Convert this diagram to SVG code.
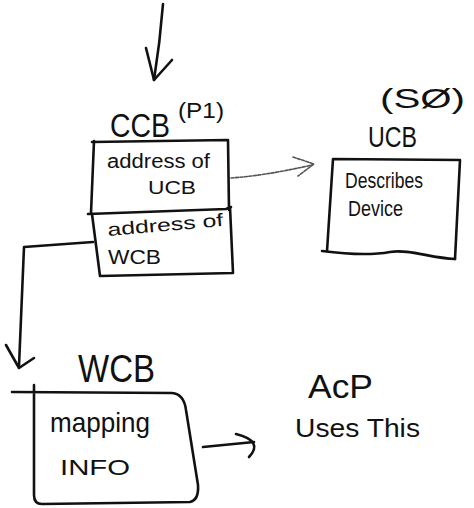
<svg xmlns="http://www.w3.org/2000/svg" width="474" height="508" viewBox="0 0 474 508">
  <style>
    .ink { fill: none; stroke: #111; stroke-width: 2.6; stroke-linecap: round; stroke-linejoin: round; }
    .faint { fill: none; stroke: #555; stroke-width: 1.6; stroke-dasharray: 3 1.5; stroke-linecap: round; stroke-linejoin: round; }
    text { font-family: "Liberation Sans", "DejaVu Sans", sans-serif; fill: #111; }
  </style>
  <rect width="474" height="508" fill="#fff"/>

  <!-- CCB: two stacked cells -->
  <g id="node-ccb">
    <text x="110" y="137" font-size="34" textLength="60" lengthAdjust="spacingAndGlyphs">CCB</text>
    <text x="178" y="118" font-size="22" textLength="46" lengthAdjust="spacingAndGlyphs">(P1)</text>
    <path class="ink" d="M92,142 L228,140 L229,210"/>
    <path class="ink" d="M94,141 L91,213"/>
    <path class="ink" d="M88,214 L226,209 L231,207"/>
    <path class="ink" d="M92,214 L100,276 L233,273 L230,207"/>
    <text x="107" y="168" font-size="20" textLength="103" lengthAdjust="spacingAndGlyphs">address of</text>
    <text x="148" y="194" font-size="18" textLength="48" lengthAdjust="spacingAndGlyphs">UCB</text>
    <text x="108" y="236" font-size="18" textLength="116" lengthAdjust="spacingAndGlyphs" transform="rotate(-5 108 236)">address of</text>
    <text x="108" y="264" font-size="20" textLength="53" lengthAdjust="spacingAndGlyphs">WCB</text>
  </g>

  <!-- UCB: open-ended box on the right -->
  <g id="node-ucb">
    <text x="380" y="108" font-size="28" textLength="85" lengthAdjust="spacingAndGlyphs">(SØ)</text>
    <text x="368" y="147" font-size="30" textLength="49" lengthAdjust="spacingAndGlyphs">UCB</text>
    <path class="ink" d="M327,251 L333,159 L460,160 L455,259"/>
    <path class="ink" d="M322,251 C345,254 368,256 390,252 C410,249 430,258 455,259"/>
    <text x="345" y="188" font-size="22" textLength="78" lengthAdjust="spacingAndGlyphs">Describes</text>
    <text x="348" y="216" font-size="22" textLength="55" lengthAdjust="spacingAndGlyphs">Device</text>
  </g>

  <!-- WCB: rounded box at the bottom left -->
  <g id="node-wcb">
    <text x="78" y="382" font-size="38" textLength="77" lengthAdjust="spacingAndGlyphs">WCB</text>
    <path class="ink" d="M12,392 L172,393 Q184,394 186,410 L198,485 Q199,500 190,502 L42,504 Q34,504 34,495 L34,385"/>
    <text x="50" y="432" font-size="28" textLength="100" lengthAdjust="spacingAndGlyphs">mapping</text>
    <text x="60" y="475" font-size="22" textLength="70" lengthAdjust="spacingAndGlyphs">INFO</text>
  </g>

  <!-- free note -->
  <g id="note-acp">
    <text x="308" y="398" font-size="34" textLength="65" lengthAdjust="spacingAndGlyphs">AcP</text>
    <text x="295" y="437" font-size="26" textLength="125" lengthAdjust="spacingAndGlyphs">Uses This</text>
  </g>

  <!-- connectors -->
  <g id="connectors">
    <path class="ink" d="M163,4 C161,30 158,55 154,80"/>
    <path class="ink" d="M146,48 L154,80 L172,60"/>

    <path class="faint" d="M231,178 C260,176 290,170 312,165"/>
    <path class="faint" d="M293,157 L314,164 L298,176"/>

    <path class="ink" d="M93,242 L24,247 L19,366"/>
    <path class="ink" d="M6,345 L19,368 L34,358"/>

    <path class="ink" d="M203,447 L254,442"/>
    <path class="ink" d="M236,434 Q264,441 249,457"/>
  </g>
</svg>
